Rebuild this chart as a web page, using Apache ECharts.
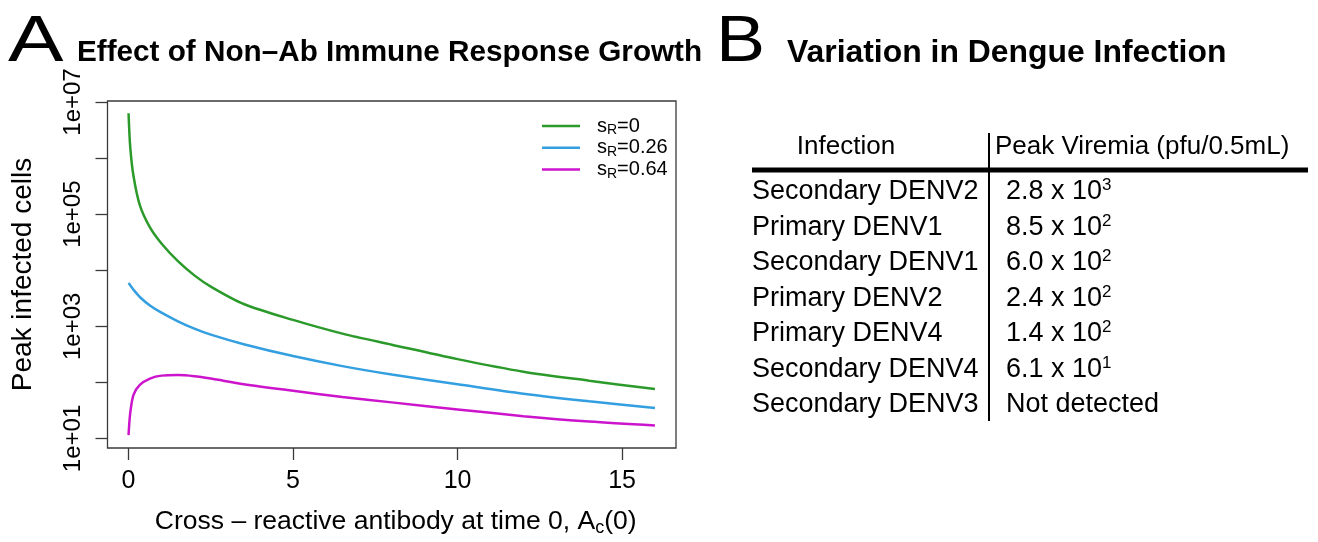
<!DOCTYPE html>
<html lang="en">
<head>
<meta charset="utf-8">
<title>Non-Ab immune response / dengue viremia</title>
<script src="https://cdn.jsdelivr.net/npm/echarts@6/dist/echarts.min.js"></script>
<style>
  html, body { margin: 0; padding: 0; background: #fff; }
  #main { width: 1318px; height: 542px; }
</style>
</head>
<body>
<div id="main"></div>
<script>
// panel A: cross-reactive antibody at time 0 (x) vs peak infected cells (log y)
var xVals = [0, 0.05, 0.15, 0.35, 0.65, 1, 1.5, 2, 2.5, 3.5, 5, 6.5, 8, 10, 12, 14, 16];
var peakSR0 = [6.3e6, 1.6e6, 4.8e5, 1.4e5, 5.8e4, 3.0e4, 1.45e4, 8100, 5100, 2500, 1300, 740, 470, 260, 155, 107, 76];
var peakSR026 = [5900, 5400, 4500, 3300, 2350, 1750, 1230, 910, 710, 480, 295, 195, 138, 93, 63, 46, 35];
var peakSR064 = [11.5, 28, 60, 91, 117, 132, 135, 129, 117, 93, 71, 55, 44, 33, 25, 20, 17];
var sRValues = ['0', '0.26', '0.64'];
var lineColors = ['#2b9a2b', '#339fe0', '#cc14cc'];
var xTicks = [0, 5, 10, 15];
var yTicks = [10, 100, 1000, 1e4, 1e5, 1e6, 1e7];
var yLabelTicks = [10, 1000, 1e5, 1e7];

// panel B: table
var infections = ['Secondary DENV2', 'Primary DENV1', 'Secondary DENV1', 'Primary DENV2',
                  'Primary DENV4', 'Secondary DENV4', 'Secondary DENV3'];
var viremiaBase = ['2.8 x 10', '8.5 x 10', '6.0 x 10', '2.4 x 10', '1.4 x 10', '6.1 x 10', 'Not detected'];
var viremiaExp = ['3', '2', '2', '2', '2', '1', ''];

var FONT = 'Liberation Sans, Arial, Helvetica, sans-serif';
var myChart = echarts.init(document.getElementById('main'));

function pairs(ys) {
  return xVals.map(function (x, i) { return [x, ys[i]]; });
}

var peakSeries = [peakSR0, peakSR026, peakSR064];
var series = peakSeries.map(function (ys, k) {
  return {
    name: 'sR=' + sRValues[k],
    type: 'line',
    data: pairs(ys),
    showSymbol: false,
    symbol: 'none',
    smooth: 0.3,
    lineStyle: { color: lineColors[k], width: 2.5 },
    itemStyle: { color: lineColors[k] }
  };
});

// panel letters, titles, table
var graphics = [
  { type: 'text', x: 8, y: 43, scaleX: 1.3, style: { text: 'A', x: 0, y: 0, fontSize: 64, fontFamily: FONT, fill: '#000',
      verticalAlign: 'middle', textVerticalAlign: 'middle' } },
  { type: 'text', style: { text: 'Effect of Non–Ab Immune Response Growth', x: 77, y: 53,
      fontSize: 29.7, fontWeight: 'bold', fontFamily: FONT, fill: '#000',
      verticalAlign: 'middle', textVerticalAlign: 'middle' } },
  { type: 'text', x: 716, y: 43, scaleX: 1.15, style: { text: 'B', x: 0, y: 0, fontSize: 64, fontFamily: FONT, fill: '#000',
      verticalAlign: 'middle', textVerticalAlign: 'middle' } },
  { type: 'text', style: { text: 'Variation in Dengue Infection', x: 787, y: 53,
      fontSize: 31.9, fontWeight: 'bold', fontFamily: FONT, fill: '#000',
      verticalAlign: 'middle', textVerticalAlign: 'middle' } },
  { type: 'text', style: { text: 'Infection', x: 846, y: 147, fontSize: 26, fontFamily: FONT, fill: '#000',
      align: 'center', textAlign: 'center', verticalAlign: 'middle', textVerticalAlign: 'middle' } },
  { type: 'text', style: { text: 'Peak Viremia (pfu/0.5mL)', x: 995, y: 147, fontSize: 26, fontFamily: FONT, fill: '#000',
      verticalAlign: 'middle', textVerticalAlign: 'middle' } },
  { type: 'line', shape: { x1: 752, y1: 170, x2: 1308, y2: 170 }, style: { stroke: '#000', lineWidth: 5 } },
  { type: 'line', shape: { x1: 989, y1: 133, x2: 989, y2: 421 }, style: { stroke: '#000', lineWidth: 2 } }
];
infections.forEach(function (name, i) {
  var y = 192 + 35.5 * i;
  graphics.push({ type: 'text', style: { text: name, x: 752, y: y, fontSize: 27, fontFamily: FONT, fill: '#000',
      verticalAlign: 'middle', textVerticalAlign: 'middle' } });
  var txt = '{n|' + viremiaBase[i] + '}' + (viremiaExp[i] ? '{sup|' + viremiaExp[i] + '}' : '');
  graphics.push({ type: 'text', style: { text: txt, x: 1006, y: y, fontFamily: FONT, fill: '#000',
      verticalAlign: 'middle', textVerticalAlign: 'middle',
      rich: {
        n: { fontSize: 27, lineHeight: 30, fontFamily: FONT, fill: '#000', color: '#000' },
        sup: { fontSize: 17, lineHeight: 15, verticalAlign: 'top', fontFamily: FONT, fill: '#000', color: '#000' }
      } } });
});

var option = {
  animation: false,
  textStyle: { fontFamily: FONT, color: '#000' },
  grid: { left: 107.5, top: 101, width: 568.5, height: 347.5, show: true,
          borderColor: '#3a3a3a', borderWidth: 1.3, backgroundColor: 'transparent' },
  legend: {
    orient: 'vertical', left: 537, top: 111, itemWidth: 38, itemHeight: 2.5, itemGap: 0.5,
    icon: 'rect',
    data: series.map(function (s) { return s.name; }),
    formatter: function (name) { return '{t|s}{sub|R}{t|' + name.slice(2) + '}'; },
    textStyle: {
      padding: [0, 0, 0, 12],
      rich: {
        t: { fontSize: 20, lineHeight: 22.5, color: '#000' },
        sub: { fontSize: 14, lineHeight: 12, verticalAlign: 'bottom', color: '#000' }
      }
    }
  },
  xAxis: {
    type: 'value', min: -0.64, max: 16.64,
    axisLine: { show: false, onZero: false },
    splitLine: { show: false },
    axisTick: { show: true, length: 12, customValues: xTicks, lineStyle: { color: '#3a3a3a', width: 1.3 } },
    axisLabel: { customValues: xTicks, margin: 21, fontSize: 25, color: '#000' },
    name: '{t|Cross – reactive antibody at time 0, A}{sub|c}{t|(0)}',
    nameLocation: 'middle', nameGap: 59,
    nameTextStyle: {
      padding: [0, 0, 0, 8],
      rich: {
        t: { fontSize: 26.5, lineHeight: 30, color: '#000' },
        sub: { fontSize: 18, lineHeight: 14, verticalAlign: 'bottom', color: '#000' }
      }
    }
  },
  yAxis: {
    type: 'log', logBase: 10, min: 6.76, max: 1.042e7,
    axisLine: { show: false, onZero: false },
    splitLine: { show: false },
    axisTick: { show: true, length: 12, customValues: yTicks, lineStyle: { color: '#3a3a3a', width: 1.3 } },
    axisLabel: {
      customValues: yLabelTicks, rotate: 90, margin: 22, fontSize: 24, color: '#000',
      formatter: function (v) {
        var e = Math.round(Math.log(v) / Math.LN10);
        return '1e+' + (e < 10 ? '0' : '') + e;
      }
    },
    name: 'Peak infected cells', nameLocation: 'middle', nameRotate: 90, nameGap: 70,
    nameTextStyle: { fontSize: 28, color: '#000' }
  },
  graphic: graphics,
  series: series
};
myChart.setOption(option);
</script>
</body>
</html>
